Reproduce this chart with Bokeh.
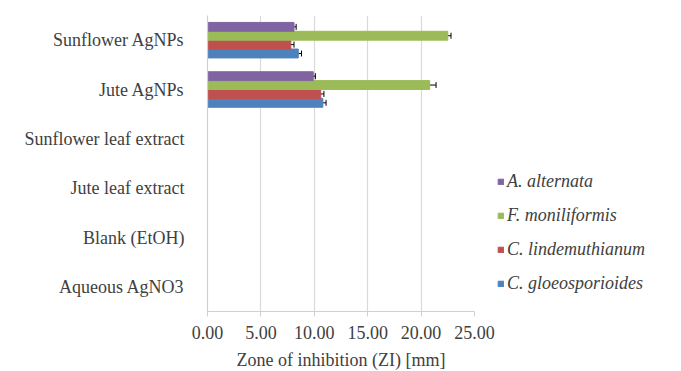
from bokeh.plotting import figure
from bokeh.models import ColumnDataSource, Legend, LegendItem, Whisker, NumeralTickFormatter, FixedTicker
from bokeh.transform import dodge
from bokeh.embed import file_html
from bokeh.resources import INLINE

categories = ["Aqueous AgNO3", "Blank (EtOH)", "Jute leaf extract",
              "Sunflower leaf extract", "Jute AgNPs", "Sunflower AgNPs"]
series_names = ["C. gloeosporioides", "C. lindemuthianum", "F. moniliformis", "A. alternata"]
gloeo = [0, 0, 0, 0, 10.8, 8.5]
linde = [0, 0, 0, 0, 10.6, 7.8]
monil = [0, 0, 0, 0, 20.8, 22.5]
alter = [0, 0, 0, 0, 9.9, 8.1]
gloeo_err = [0, 0, 0, 0, 0.3, 0.3]
linde_err = [0, 0, 0, 0, 0.3, 0.3]
monil_err = [0, 0, 0, 0, 0.6, 0.3]
alter_err = [0, 0, 0, 0, 0.2, 0.2]
x_ticks = [0, 5, 10, 15, 20, 25]

colors = ["#4F81BD", "#C0504D", "#9BBB59", "#8064A2"]
offsets = [-0.27, -0.09, 0.09, 0.27]
values = [gloeo, linde, monil, alter]
errs = [gloeo_err, linde_err, monil_err, alter_err]

FONT = "Liberation Serif"
FS = "18px"

p = figure(y_range=categories, x_range=(0, 25), frame_width=267, frame_height=296,
           min_border_left=207, min_border_top=15, min_border_right=0,
           output_backend="svg", toolbar_location=None)

items = []
for name, col, off, v, e in zip(series_names, colors, offsets, values, errs):
    lo = [a - b for a, b in zip(v, e)]
    hi = [a + b for a, b in zip(v, e)]
    src = ColumnDataSource(dict(cat=categories, v=v))
    r = p.hbar(y=dodge("cat", off, range=p.y_range), right="v", left=0, height=0.18,
               source=src, fill_color=col, line_color=col)
    items.append(LegendItem(label=name, renderers=[r]))
    sub = ColumnDataSource(dict(cat=categories[4:], lo=lo[4:], hi=hi[4:]))
    w = Whisker(source=sub, base=dodge("cat", off, range=p.y_range), lower="lo", upper="hi",
                dimension="width", line_color="black", line_width=1)
    w.upper_head.size = 6
    w.lower_head.size = 6
    w.upper_head.line_color = "black"
    w.lower_head.line_color = "black"
    p.add_layout(w)

legend = Legend(items=list(reversed(items)), location=(23, 17))
legend.border_line_color = None
legend.background_fill_alpha = 0
legend.label_text_font = FONT
legend.label_text_font_style = "italic"
legend.label_text_font_size = FS
legend.label_text_color = "#404040"
legend.glyph_width = 7
legend.glyph_height = 7
legend.spacing = 13
legend.label_height = 20
legend.label_standoff = 3
legend.padding = 0
legend.margin = 0
p.add_layout(legend, "right")

p.outline_line_color = None
p.ygrid.grid_line_color = None
p.xgrid.grid_line_color = "#D9D9D9"
p.xgrid.grid_line_width = 1.2
p.xaxis.ticker = FixedTicker(ticks=x_ticks)
p.xaxis.formatter = NumeralTickFormatter(format="0.00")
p.xaxis.axis_label = "Zone of inhibition (ZI) [mm]"
for ax in (p.xaxis[0], p.yaxis[0]):
    ax.axis_line_color = "#D0D0D0"
    ax.axis_line_width = 1.2
    ax.major_tick_line_color = "#D0D0D0"
    ax.minor_tick_line_color = None
    ax.major_label_text_font = FONT
    ax.major_label_text_font_size = FS
    ax.major_label_text_color = "#404040"
p.xaxis.major_tick_out = 5
p.xaxis.major_tick_in = 0
p.yaxis.major_tick_out = 0
p.yaxis.major_tick_in = 0
p.yaxis.major_label_standoff = 23
p.xaxis.major_label_standoff = 9
p.xaxis.axis_label_text_font = FONT
p.xaxis.axis_label_text_font_size = FS
p.xaxis.axis_label_text_font_style = "normal"
p.xaxis.axis_label_text_color = "#404040"
p.xaxis.axis_label_standoff = 8

open("out.html", "w").write(file_html(p, INLINE))
